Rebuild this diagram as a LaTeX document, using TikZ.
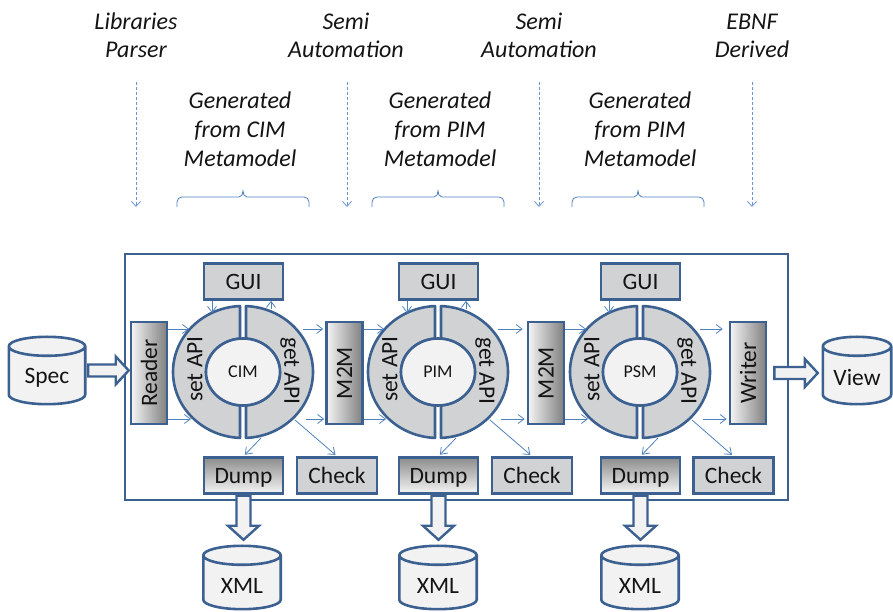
\documentclass[tikz,border=0pt]{standalone}
\usepackage{fontspec}
\setmainfont{Carlito}
\usetikzlibrary{calc,arrows.meta,shapes.geometric}
\pgfdeclarelayer{background}
\pgfsetlayers{background,main}

\definecolor{edgeblue}{HTML}{3C6191}
\definecolor{flowblue}{HTML}{4F81BD}
\definecolor{hintblue}{HTML}{6A95CF}
\definecolor{panelgray}{HTML}{D0D2D4}
\definecolor{paper}{HTML}{F2F2F2}

\tikzset{
  boxlabel/.style={font=\fontsize{23.5}{27}\selectfont, text=black!92},
  note/.style={font=\itshape\fontsize{24}{28}\selectfont, align=center, inner sep=0pt, text=black!92},
  gennote/.style={note, font=\itshape\fontsize{24}{29}\selectfont},
  toolbox/.style={boxlabel, draw=edgeblue, line width=2.6pt, fill=panelgray,
    minimum width=79pt, minimum height=36pt, inner sep=0pt, text height=19.5pt, text depth=3pt},
  dumpbox/.style={toolbox, top color=black!45, bottom color=black!4},
  sidebox/.style={boxlabel, draw=edgeblue, line width=2.6pt, left color=black!4, right color=black!50,
    minimum width=36pt, minimum height=102pt, inner sep=0pt},
  frame/.style={draw=edgeblue, line width=2.2pt, minimum width=663pt, minimum height=246pt, inner sep=0pt},
  drumbox/.style={inner sep=0pt},
  drumline/.style={draw=edgeblue, fill=paper, line width=2.6pt},
  ringhalf/.style={draw=edgeblue, fill=panelgray, line width=2.6pt, line join=round},
  core/.style={ellipse, draw=edgeblue, line width=2.6pt, fill=paper, minimum width=74pt,
    minimum height=67pt, inner sep=0pt, font=\fontsize{18}{21}\selectfont, text=black!92},
  flow/.style={draw=flowblue, line width=0.8pt, -{Straight Barb[length=6pt,width=9pt]}},
  hint/.style={draw=hintblue, line width=0.8pt, dash pattern=on 3pt off 2pt,
    -{Straight Barb[length=5pt,width=9pt]}},
  hollow/.style={draw=edgeblue, fill=paper, line width=2.4pt, line join=miter},
  bracestyle/.style={draw=flowblue, line width=0.8pt},
}

% database drum drawn round a named node
\newcommand\drum[1]{%
  \begin{pgfonlayer}{background}
  \path[drumline] let \p1=(#1.north west), \p2=(#1.south east), \n1={0.5*(\x2-\x1)} in
    (\x1,\y1-9.5pt) -- (\x1,\y2+9.5pt)
    arc[start angle=180,end angle=360,x radius=\n1,y radius=9.5pt]
    -- (\x2,\y1-9.5pt)
    arc[start angle=0,end angle=180,x radius=\n1,y radius=9.5pt] -- cycle
    (\x1,\y1-9.5pt) arc[start angle=180,end angle=360,x radius=\n1,y radius=9.5pt];
  \end{pgfonlayer}}

% wide hollow arrow pointing right
\newcommand\hollowh[2]{%
  \draw[hollow] let \p1=(#1), \p2=(#2) in
    (\x1,\y1+6pt) -- (\x2-13pt,\y1+6pt) -- (\x2-13pt,\y1+14pt) -- (\x2,\y1)
    -- (\x2-13pt,\y1-14pt) -- (\x2-13pt,\y1-6pt) -- (\x1,\y1-6pt) -- cycle;}

% wide hollow arrow pointing down
\newcommand\hollowv[2]{%
  \draw[hollow] let \p1=(#1), \p2=(#2) in
    (\x1-7pt,\y1) -- (\x1-7pt,\y2+14pt) -- (\x1-15.5pt,\y2+14pt) -- (\x1,\y2)
    -- (\x1+15.5pt,\y2+14pt) -- (\x1+7pt,\y2+14pt) -- (\x1+7pt,\y1) -- cycle;}

% model ring: two API halves round a core
\newcommand\modelring[3]{%
  \draw[ringhalf] ($(#1,240)+(92.46:70pt and 66pt)$)
    arc[start angle=92.46,end angle=267.54,x radius=70pt,y radius=66pt]
    -- ($(#1,240)+(265.35:37pt and 33.5pt)$)
    arc[start angle=265.35,end angle=94.65,x radius=37pt,y radius=33.5pt] -- cycle;
  \draw[ringhalf] ($(#1,240)+(87.54:70pt and 66pt)$)
    arc[start angle=87.54,end angle=-87.54,x radius=70pt,y radius=66pt]
    -- ($(#1,240)+(-85.35:37pt and 33.5pt)$)
    arc[start angle=-85.35,end angle=85.35,x radius=37pt,y radius=33.5pt] -- cycle;
  \node[core] (#2) at (#1,240) {#3};
  \node[boxlabel, rotate=90] (#2-set) at (#1-48,243) {set API};
  \node[boxlabel, rotate=-90] (#2-get) at (#1+47,241) {get API};
  \coordinate (#2-gui-in) at (#1-31,299);
  \coordinate (#2-gui-out) at (#1+28,303);
  \coordinate (#2-in-u) at (#1-54,283);
  \coordinate (#2-in-l) at (#1-52,193);
  \coordinate (#2-out-u) at (#1+60,283);
  \coordinate (#2-out-l) at (#1+63,193);
  \coordinate (#2-to-dump) at (#1+18,174);
  \coordinate (#2-to-check) at (#1+52,192);
}

% curly brace over a span
\newcommand\topbrace[2]{%
  \pgfmathsetmacro\bmid{(#1+#2)/2}%
  \draw[bracestyle] (#1,405) -- (#1,410) to[out=90,in=180] (#1+5,415)
    -- (\bmid-4,415) to[out=0,in=270] (\bmid,421)
    to[out=270,in=180] (\bmid+4,415) -- (#2-5,415)
    to[out=0,in=90] (#2,410) -- (#2,405);}

\begin{document}
\begin{tikzpicture}[x=1pt,y=1pt]
\useasboundingbox (0,0) rectangle (893,612);

% annotations above the tool chain
\node[note] (lib) at (136,576.5) {Libraries\\Parser};
\node[note] (semi1) at (346,577) {Semi\\Automation};
\node[note] (semi2) at (539,577) {Semi\\Automation};
\node[note] (ebnf) at (752,576) {EBNF\\Derived};
\node[gennote] (gen1) at (240,482.5) {Generated\\from CIM\\Metamodel};
\node[gennote] (gen2) at (440,482.5) {Generated\\from PIM\\Metamodel};
\node[gennote] (gen3) at (640,482.5) {Generated\\from PIM\\Metamodel};

\coordinate (lib-a) at (136,530);   \coordinate (lib-b) at (136,405);
\coordinate (semi1-a) at (347,530); \coordinate (semi1-b) at (347,405);
\coordinate (semi2-a) at (539,530); \coordinate (semi2-b) at (539,405);
\coordinate (ebnf-a) at (752,530);  \coordinate (ebnf-b) at (752,405);
\draw[hint] (lib-a) -- (lib-b);
\draw[hint] (semi1-a) -- (semi1-b);
\draw[hint] (semi2-a) -- (semi2-b);
\draw[hint] (ebnf-a) -- (ebnf-b);

\topbrace{177}{309}
\topbrace{372}{504}
\topbrace{572}{704}

% enclosing tool frame
\node[frame] (frame) at (456.5,235) {};

% input and output stores
\node[drumbox, minimum width=76pt, minimum height=67pt] (spec) at (47,241.5) {};
\drum{spec}
\node[boxlabel] (spec-t) at ([yshift=-7pt]spec.center) {Spec};
\node[drumbox, minimum width=68pt, minimum height=67pt] (view) at (857,241.5) {};
\drum{view}
\node[boxlabel] (view-t) at ([yshift=-7pt]view.center) {View};

% transformation stages
\node[sidebox] (reader) at (149,239) {\rotatebox{90}{Reader}};
\node[sidebox] (m2m1) at (344.5,239) {\rotatebox{90}{M2M}};
\node[sidebox] (m2m2) at (546,239) {\rotatebox{90}{M2M}};
\node[sidebox] (writer) at (748,239) {\rotatebox{90}{Writer}};

\modelring{243}{cim}{CIM}
\modelring{438}{pim}{PIM}
\modelring{640}{psm}{PSM}

\node[toolbox] (gui1) at (243.5,330.5) {GUI};
\node[toolbox] (gui2) at (438.5,330.5) {GUI};
\node[toolbox] (gui3) at (640.5,330.5) {GUI};

\node[dumpbox] (dump1) at (243.5,136.5) {Dump};
\node[dumpbox] (dump2) at (438.5,136.5) {Dump};
\node[dumpbox] (dump3) at (640.5,136.5) {Dump};
\node[toolbox, minimum width=80pt] (check1) at (337,136.5) {Check};
\node[toolbox, minimum width=80pt] (check2) at (532,136.5) {Check};
\node[toolbox, minimum width=80pt] (check3) at (733.5,136.5) {Check};

\node[drumbox, minimum width=77pt, minimum height=63pt] (xml1) at (242,34.5) {};
\drum{xml1}
\node[boxlabel] (xml1-t) at ([yshift=-8pt]xml1.center) {XML};
\node[drumbox, minimum width=77pt, minimum height=63pt] (xml2) at (438,34.5) {};
\drum{xml2}
\node[boxlabel] (xml2-t) at ([yshift=-8pt]xml2.center) {XML};
\node[drumbox, minimum width=77pt, minimum height=63pt] (xml3) at (640,34.5) {};
\drum{xml3}
\node[boxlabel] (xml3-t) at ([yshift=-8pt]xml3.center) {XML};

% data flow between the stages
\draw[flow] (gui1.south -| cim-gui-in) -- (cim-gui-in);
\draw[flow] (cim-gui-out) -- (gui1.south -| cim-gui-out);
\draw[flow] (gui2.south -| pim-gui-in) -- (pim-gui-in);
\draw[flow] (pim-gui-out) -- (gui2.south -| pim-gui-out);
\draw[flow] (gui3.south -| psm-gui-in) -- (psm-gui-in);

\draw[flow] (reader.east |- cim-in-u) -- (cim-in-u);
\draw[flow] (reader.east |- cim-in-l) -- (cim-in-l);
\draw[flow, shorten >=2pt] (cim-out-u) -- (m2m1.west |- cim-out-u);
\draw[flow, shorten >=1pt] (cim-out-l) -- (m2m1.west |- cim-out-l);
\draw[flow] (m2m1.east |- pim-in-u) -- (pim-in-u);
\draw[flow] (m2m1.east |- pim-in-l) -- (pim-in-l);
\draw[flow, shorten >=4pt] (pim-out-u) -- (m2m2.west |- pim-out-u);
\draw[flow, shorten >=2pt] (pim-out-l) -- (m2m2.west |- pim-out-l);
\draw[flow] (m2m2.east |- psm-in-u) -- (psm-in-u);
\draw[flow] (m2m2.east |- psm-in-l) -- (psm-in-l);
\draw[flow, shorten >=6pt] (psm-out-u) -- (writer.west |- psm-out-u);
\draw[flow, shorten >=2pt] (psm-out-l) -- (writer.west |- psm-out-l);

\draw[flow, shorten >=2pt] (cim-to-dump) -- (dump1.north);
\draw[flow, shorten >=2pt] (cim-to-check) -- (check1.north);
\draw[flow, shorten >=2pt] (pim-to-dump) -- (dump2.north);
\draw[flow, shorten >=2pt] (pim-to-check) -- (check2.north);
\draw[flow, shorten >=2pt] (psm-to-dump) -- (dump3.north);
\draw[flow, shorten >=2pt] (psm-to-check) -- (check3.north);

% bulk transfers in and out of the frame
\hollowh{[xshift=3pt]spec.east}{[xshift=-1pt]reader.west}
\hollowh{[xshift=7pt]writer.east}{[xshift=-5pt]view.west}
\hollowv{[yshift=-1pt]dump1.south}{[yshift=6pt]xml1.north}
\hollowv{[yshift=-1pt]dump2.south}{[yshift=6pt]xml2.north}
\hollowv{[yshift=-1pt]dump3.south}{[yshift=6pt]xml3.north}
\end{tikzpicture}
\end{document}
